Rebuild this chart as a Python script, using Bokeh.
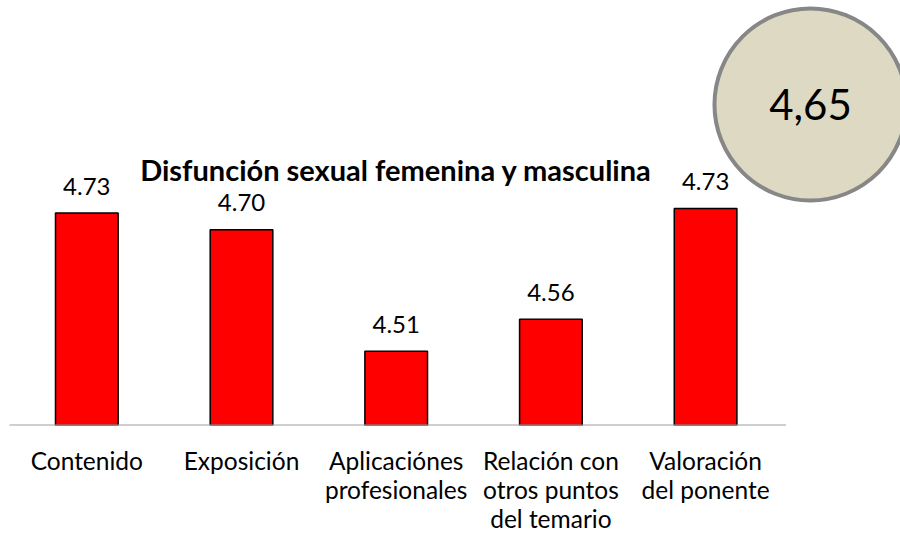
from bokeh.plotting import figure
from bokeh.models import Range1d, FixedTicker, Label, ColumnDataSource
from bokeh.core.properties import value
from bokeh.embed import file_html
from bokeh.resources import INLINE

# ---- data ----
categories = ["Contenido", "Exposición", "Aplicaciónes\nprofesionales",
              "Relación con\notros puntos\ndel temario", "Valoración\ndel ponente"]
scores = [4.726, 4.70, 4.51, 4.56, 4.733]
score_labels = ["4.73", "4.70", "4.51", "4.56", "4.73"]
title_text = "Disfunción sexual femenina y masculina"
overall_text = "4,65"
overall_pos = (4.678, 4.8956)
axis_min = 4.394

FONT = "Lato"
xs = list(range(len(categories)))
FH = 425

p = figure(frame_width=900, frame_height=FH, output_backend="svg",
           toolbar_location=None, min_border=0,
           x_range=Range1d(-0.558, 5.260), y_range=Range1d(axis_min, axis_min + FH / 640))
p.outline_line_color = None
p.xgrid.visible = False
p.ygrid.visible = False
p.yaxis.visible = False
p.background_fill_color = "white"
p.border_fill_color = "white"

src = ColumnDataSource(dict(x=xs, top=scores, lab=score_labels))
p.vbar(x="x", top="top", bottom=axis_min, width=0.405, source=src,
       fill_color="#ff0000", line_color="black", line_width=1.5)

# baseline
p.segment(x0=[-0.5], y0=[axis_min], x1=[len(categories) - 0.48], y1=[axis_min],
          line_color="#a0a0a0", line_width=2)

p.text(x="x", y="top", text="lab", source=src, text_font=value(FONT),
       text_font_size="24px", text_align="center", text_baseline="alphabetic",
       y_offset=-27, text_color="black")

ax = p.xaxis[0]
ax.ticker = FixedTicker(ticks=xs)
ax.major_label_overrides = {i: c for i, c in enumerate(categories)}
ax.axis_line_color = None
ax.major_tick_line_color = None
ax.minor_tick_line_color = None
ax.major_label_text_font = FONT
ax.major_label_text_font_size = "24.5px"
ax.major_label_text_line_height = 1.0
ax.major_label_text_color = "black"
ax.major_label_standoff = 14

p.add_layout(Label(x=(len(categories) - 1) / 2, y=4.7934, text=title_text,
                   text_font=FONT, text_font_style="bold", text_font_size="29px",
                   text_align="center", text_baseline="alphabetic", text_color="black"))

p.scatter(x=[overall_pos[0]], y=[overall_pos[1]], marker="circle", size=192,
          fill_color="#ddd9c3", line_color="#878787", line_width=4)
p.add_layout(Label(x=overall_pos[0], y=overall_pos[1], text=overall_text, text_font=FONT,
                   text_font_size="42px", text_align="center", text_baseline="alphabetic",
                   text_color="black"))

open("out.html", "w").write(file_html(p, INLINE))
